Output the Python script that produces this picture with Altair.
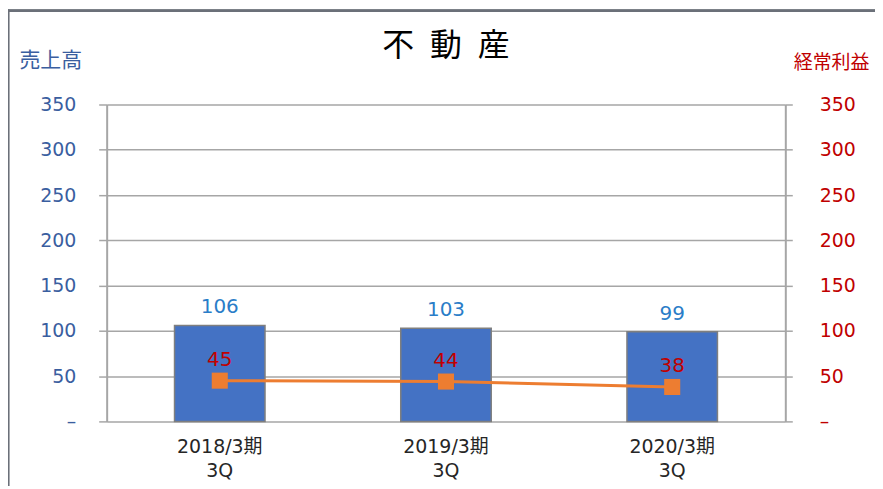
import altair as alt
import pandas as pd

categories = ["2018/3期\n3Q", "2019/3期\n3Q", "2020/3期\n3Q"]
sales = [106, 103, 99]
profit = [45, 44, 38]
ticks = [0, 50, 100, 150, 200, 250, 300, 350]

df = pd.DataFrame({"cat": categories, "sales": sales, "profit": profit})

W, H = 681, 318
FONT = "Noto Sans CJK JP"
NUMFONT = "DejaVu Sans, Noto Sans CJK JP"
GRID = "#A6A6A6"
BLUE_AX = "#3A5E9F"
RED = "#C00000"

x = alt.X(
    "cat:N",
    sort=categories,
    scale=alt.Scale(paddingInner=0.6, paddingOuter=0.3),
    axis=alt.Axis(
        title=None, labelAngle=0, labelExpr="split(datum.label, '\\n')",
        ticks=False, domain=False, labelFontSize=19, labelColor="#262626",
        labelPadding=16, labelLineHeight=24, labelFont=NUMFONT,
    ),
)

yl_scale = alt.Scale(domain=[0, 350])
yr_scale = alt.Scale(domain=[0, 350])

left_axis = alt.Axis(
    values=ticks, title="売上高", titleAngle=0, titleX=-88, titleY=-44,
    titleAlign="left", titleBaseline="middle", titleColor=BLUE_AX,
    titleFontSize=21, titleFontWeight="normal", titleFont=FONT,
    labelColor=BLUE_AX, labelFontSize=19, labelPadding=23, labelFont=NUMFONT,
    tickSize=8, tickColor=GRID, tickWidth=1.5, domainColor=GRID, domainWidth=2,
    grid=True, gridColor=GRID, gridWidth=1.5,
    labelExpr="datum.value == 0 ? '–' : datum.label",
)
right_axis = alt.Axis(
    orient="right", values=ticks, title="経常利益", titleAngle=0, titleX=8,
    titleY=-42, titleAlign="left", titleBaseline="middle", titleColor=RED,
    titleFontSize=19, titleFontWeight="normal", titleFont=FONT,
    labelColor=RED, labelFontSize=19, labelPadding=27, labelAlign="left",
    labelFont=NUMFONT, tickSize=7, tickColor=GRID, tickWidth=1.5,
    domainColor=GRID, domainWidth=2, grid=False,
    labelExpr="datum.value == 0 ? '–' : datum.label",
)

base = alt.Chart(df)

bars = base.mark_bar(color="#4472C4", stroke="#7F7F7F", strokeWidth=1.5).encode(
    x=x, y=alt.Y("sales:Q", scale=yl_scale, axis=left_axis)
)
bar_text = base.mark_text(
    baseline="alphabetic", dy=-12, fontSize=20, font=NUMFONT, color="#2A7DC8"
).encode(x=x, y=alt.Y("sales:Q", scale=yl_scale), text="sales:Q")

frame_top = alt.Chart(df).mark_rule(color="#6B7079", strokeWidth=2.5).encode(
    x=alt.value(-99), x2=alt.value(W + 120), y=alt.value(-94)
)
frame_left = alt.Chart(df).mark_rule(color="#6B7079", strokeWidth=2.5).encode(
    x=alt.value(-99), y=alt.value(-95), y2=alt.value(H + 80)
)

left = alt.layer(bars, bar_text, frame_top, frame_left)

line = base.mark_line(color="#ED7D31", strokeWidth=3).encode(
    x=x, y=alt.Y("profit:Q", scale=yr_scale, axis=right_axis)
)
pts = base.mark_point(
    shape="square", filled=True, size=260, color="#ED7D31", opacity=1
).encode(x=x, y=alt.Y("profit:Q", scale=yr_scale))
pt_text = base.mark_text(
    baseline="alphabetic", dy=-15, fontSize=20, font=NUMFONT, color=RED
).encode(x=x, y=alt.Y("profit:Q", scale=yr_scale), text="profit:Q")

right = alt.layer(line, pts, pt_text)

chart = (
    alt.layer(left, right)
    .resolve_scale(y="independent")
    .properties(
        width=W,
        height=H,
        autosize=alt.AutoSizeParams(type="none"),
        padding={"left": 99, "top": 96, "right": 90, "bottom": 64},
        title=alt.Title(
            "不\u2002動\u2002産", fontSize=32, color="black", font=FONT,
            fontWeight="normal", anchor="middle", frame="group", offset=-55,
        ),
        background="white",
    )
    .configure_view(stroke=None)
)

chart.save("out.html", embed_options={"renderer": "svg", "actions": False})
